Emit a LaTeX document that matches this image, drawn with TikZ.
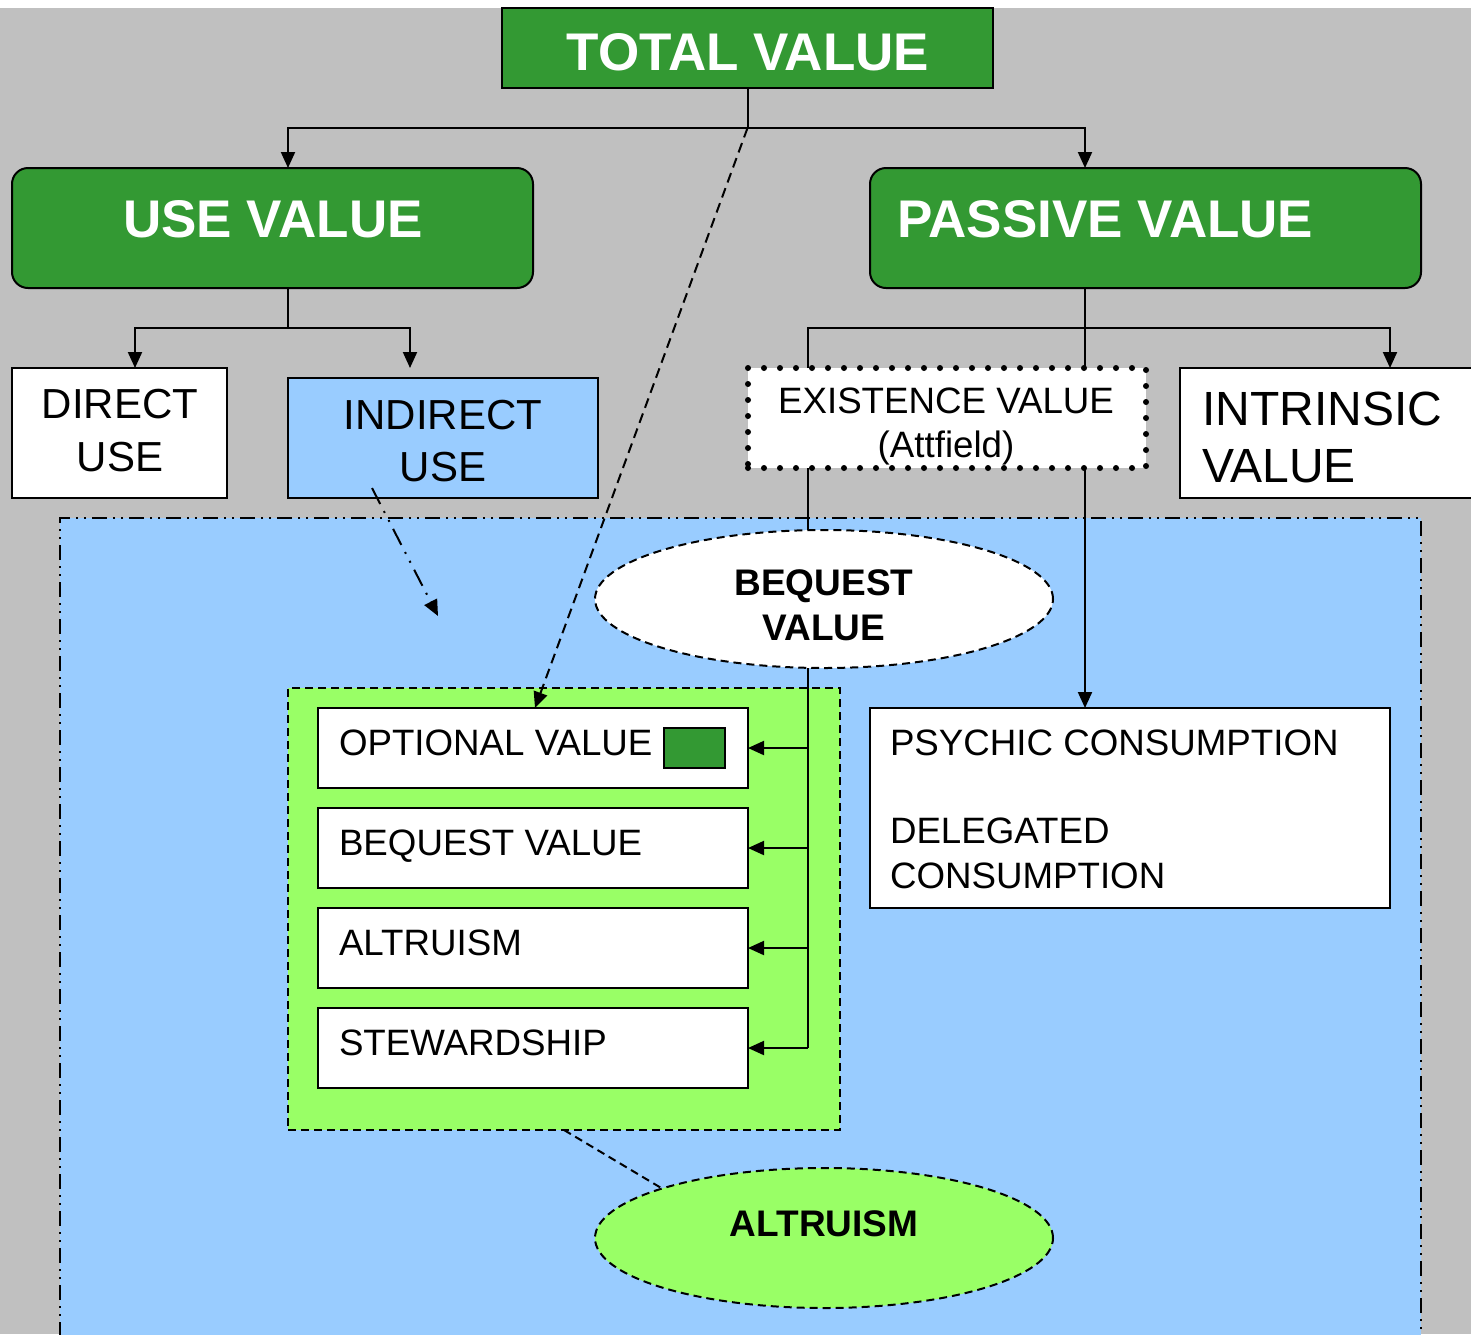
\documentclass[tikz,border=0pt]{standalone}
\usepackage{fontspec}
\setmainfont{Liberation Sans}
\usetikzlibrary{arrows.meta,shapes.geometric,calc}
\definecolor{dgreen}{HTML}{339933}
\definecolor{lblue}{HTML}{99CCFF}
\definecolor{lgreen}{HTML}{99FF66}
\definecolor{bggray}{HTML}{C0C0C0}
\begin{document}
\begin{tikzpicture}[x=1pt,y=-1pt,
  every node/.style={inner sep=0pt, outer sep=0pt},
  conn/.style={line width=2pt},
  tip/.style={-{Triangle[length=16pt,width=14pt]}},
  arr/.style={conn,tip},
  wbox/.style={draw, line width=2pt, fill=white, anchor=north west},
  gbox/.style={draw, line width=2pt, fill=dgreen, rounded corners=16pt, anchor=north west},
  wtxt/.style={text=white, font=\fontsize{53}{60}\selectfont\bfseries},
  t42/.style={font=\fontsize{42}{50}\selectfont},
  t48/.style={font=\fontsize{48}{56}\selectfont},
  t36/.style={font=\fontsize{36.7}{44}\selectfont},
  b37/.style={font=\fontsize{37}{44}\selectfont\bfseries},
  region/.style={anchor=north west, line width=2pt},
  dashdotdot/.style={dash pattern=on 15pt off 6pt on 2pt off 6pt on 2pt off 6pt},
  arrdashdot/.style={dash pattern=on 18pt off 8pt on 2pt off 8pt on 2pt off 8pt},
  shortdash/.style={dash pattern=on 8pt off 5pt},
  dotbox/.style={anchor=north west, fill=white, draw, line width=6pt, line cap=round, dash pattern=on 0pt off 16pt}
]
\useasboundingbox (0,0) rectangle (1471,1334);
\clip (0,0) rectangle (1471,1334);
\fill[white] (0,0) rectangle (1471,1334);
\fill[bggray] (0,8) rectangle (1471,1334);

% regions
\node[region, draw, dashdotdot, fill=lblue, minimum width=1361pt, minimum height=840pt] (blue) at (60,518) {};
\node[region, draw, shortdash, fill=lgreen, minimum width=552pt, minimum height=442pt] (grn) at (288,688) {};

% top level
\node[draw, line width=2.5pt, fill=dgreen, anchor=north west, minimum width=491pt, minimum height=80pt] (tv) at (502,8) {};
\node[wtxt, anchor=base] (tvt) at (748,70) {TOTAL VALUE};

\node[gbox, minimum width=521pt, minimum height=120pt] (use) at (12,168) {};
\node[wtxt, anchor=base] (uset) at (273,237) {USE VALUE};
\node[gbox, minimum width=551pt, minimum height=120pt] (pas) at (870,168) {};
\node[wtxt, anchor=base west] (past) at (897,237) {PASSIVE VALUE};

% second level
\node[wbox, minimum width=215pt, minimum height=130pt] (du) at (12,368) {};
\node[t42, anchor=base] (dut1) at (120,418) {DIRECT};
\node[t42, anchor=base] (dut2) at (120,471) {USE};
\node[wbox, fill=lblue, minimum width=310pt, minimum height=120pt] (ind) at (288,378) {};
\node[t42, anchor=base] (indt1) at (443,429) {INDIRECT};
\node[t42, anchor=base] (indt2) at (443,481) {USE};
\node[dotbox, minimum width=398pt, minimum height=100pt] (ex) at (748,368) {};
\node[t36, anchor=base] (ext1) at (946,413) {EXISTENCE VALUE};
\node[t36, anchor=base] (ext2) at (946,457) {(Attfield)};
\node[wbox, minimum width=300pt, minimum height=130pt] (int) at (1180,368) {};
\node[t48, anchor=base west] (intt1) at (1202,425) {INTRINSIC};
\node[t48, anchor=base west] (intt2) at (1202,482) {VALUE};

% ellipses
\node[ellipse, draw, line width=2pt, shortdash, fill=white, minimum width=458pt, minimum height=138pt] (beq) at (824,599) {};
\node[b37, anchor=base] (beqt1) at (824,595) {BEQUEST};
\node[b37, anchor=base] (beqt2) at (824,640) {VALUE};
\node[ellipse, draw, line width=2pt, shortdash, fill=lgreen, minimum width=458pt, minimum height=140pt] (altE) at (824,1238) {};
\node[b37, anchor=base] (altEt) at (824,1236) {ALTRUISM};

% inner boxes
\node[wbox, minimum width=430pt, minimum height=80pt] (opt) at (318,708) {};
\node[t36, anchor=base west] (optt) at (339,755) {OPTIONAL VALUE};
\node[draw, line width=2pt, fill=dgreen, anchor=north west, minimum width=61pt, minimum height=40pt] (sq) at (664,728) {};
\node[wbox, minimum width=430pt, minimum height=80pt] (bqb) at (318,808) {};
\node[t36, anchor=base west] (bqbt) at (339,855) {BEQUEST VALUE};
\node[wbox, minimum width=430pt, minimum height=80pt] (alb) at (318,908) {};
\node[t36, anchor=base west] (albt) at (339,955) {ALTRUISM};
\node[wbox, minimum width=430pt, minimum height=80pt] (stw) at (318,1008) {};
\node[t36, anchor=base west] (stwt) at (339,1055) {STEWARDSHIP};
\node[wbox, minimum width=520pt, minimum height=200pt] (psy) at (870,708) {};
\node[t36, anchor=base west] (psyt1) at (890,755) {PSYCHIC CONSUMPTION};
\node[t36, anchor=base west] (psyt2) at (890,843) {DELEGATED};
\node[t36, anchor=base west] (psyt3) at (890,888) {CONSUMPTION};

% connectors: top
\coordinate (tvj) at ($(tv.south)+(0,40)$);
\draw[conn] (tv.south) -- (tvj);
\draw[arr] (tvj) -| ($(use.north west)+(276,0)$);
\draw[arr] (tvj) -| ($(pas.north west)+(215,0)$);

% use value children
\coordinate (uj) at ($(use.south west)+(276,40)$);
\draw[conn] ($(use.south west)+(276,0)$) -- (uj);
\draw[arr] (uj) -| ($(du.north west)+(123,0)$);
\draw[arr] (uj) -| ($(ind.north west)+(122,-10)$);

% passive value children
\draw[conn] ($(pas.south west)+(215,0)$) -- ($(ex.north west)+(337,0)$);
\draw[arr] ($(ex.north west)+(60,0)$) -- ++(0,-40) -| ($(int.north west)+(210,0)$);

% existence to bequest and psychic
\coordinate (e1) at ($(ex.south west)+(60,0)$);
\draw[conn] (e1) -- (e1 |- beq.north);
\draw[arr] ($(ex.south west)+(337,0)$) -- ($(psy.north west)+(215,0)$);

% bequest spine
\coordinate (spb) at ($(stw.east)+(60,0)$);
\draw[conn] (e1 |- beq.south) -- (spb);
\draw[arr] (opt.east -| e1) -- (opt.east);
\draw[arr] (bqb.east -| e1) -- (bqb.east);
\draw[arr] (alb.east -| e1) -- (alb.east);
\draw[arr] (spb) -- (stw.east);

% dashed from total value
\draw[conn, dash pattern=on 10pt off 6pt, tip] (tvj) -- ($(opt.north west)+(217,0)$);

% dash-dot from indirect use
\coordinate (ia) at (438,616);
\draw[conn, arrdashdot, tip] ($(ind.south west)+(84,-10)$) -- (ia);

% green region to altruism ellipse
\draw[conn, shortdash] (grn.south) -- (altE.163);
\end{tikzpicture}
\end{document}
